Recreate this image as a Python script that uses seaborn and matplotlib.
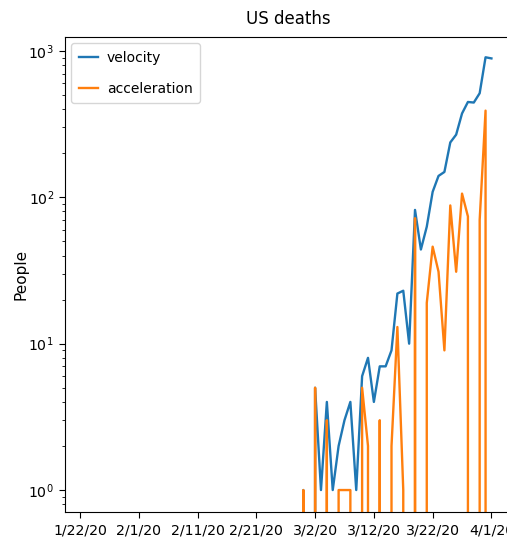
import matplotlib
matplotlib.use("Agg")
import matplotlib.pyplot as plt
import seaborn as sns
import pandas as pd
import numpy as np

# Daily US deaths (velocity) and day-over-day change (acceleration), 1/22/20 - 4/1/20
start_date = "2020-01-22"
n_days = 71

velocity = [0] * 38 + [
    1, 0, 5, 1, 4, 1, 2, 3, 4, 1,          # 2/29 - 3/9
    6, 8, 4, 7, 7, 9, 22, 23, 10, 82,       # 3/10 - 3/19
    44, 63, 109, 140, 149, 237, 268, 374,   # 3/20 - 3/27
    448, 444, 514, 905, 889,                # 3/28 - 4/1
]

acceleration = [np.nan] + [0] * 37 + [
    1, -1, 5, -4, 3, -3, 1, 1, 1, -3,       # 2/29 - 3/9
    5, 2, -4, 3, 0, 2, 13, 1, -13, 72,      # 3/10 - 3/19
    -38, 19, 46, 31, 9, 88, 31, 106,        # 3/20 - 3/27
    74, -4, 70, 391, -16,                   # 3/28 - 4/1
]

dates = pd.date_range(start_date, periods=n_days)
date_labels = [f"{d.month}/{d.day}/{d.strftime('%y')}" for d in dates]

df = pd.DataFrame({
    "day": np.arange(n_days),
    "velocity": velocity,
    "acceleration": acceleration,
})

plt.rcParams["font.family"] = ["DejaVu Sans"]
plt.rcParams["font.size"] = 10

fig = plt.figure(figsize=(5.07, 5.41), dpi=100)
ax = fig.add_axes([65 / 507, 29 / 541, 447 / 507, 475 / 541])

sns.lineplot(data=df, x="day", y="velocity", ax=ax, color="tab:blue",
             label="velocity", linewidth=1.7)
sns.lineplot(data=df, x="day", y="acceleration", ax=ax, color="tab:orange",
             label="acceleration", linewidth=1.7)

ax.set_yscale("log", nonpositive="clip")
ax.set_ylim(0.708, 1245)
ax.set_xlim(-2.55, 73.5)

tick_pos = list(range(0, n_days, 10))
ax.set_xticks(tick_pos)
ax.set_xticklabels([date_labels[i] for i in tick_pos])
ax.tick_params(axis="both", which="major", length=4.5, labelsize=10.2)
ax.tick_params(axis="y", which="minor", length=2.5)

ax.set_title("US deaths", fontsize=12, pad=9)
ax.set_xlabel("")
ax.set_ylabel("People", fontsize=11, labelpad=0)
ax.legend(loc="upper left", handlelength=1.4, handletextpad=0.6,
          fontsize=10, labelspacing=1.2, borderpad=0.55,
          borderaxespad=0.45)

fig.savefig("out.png", dpi=100)
